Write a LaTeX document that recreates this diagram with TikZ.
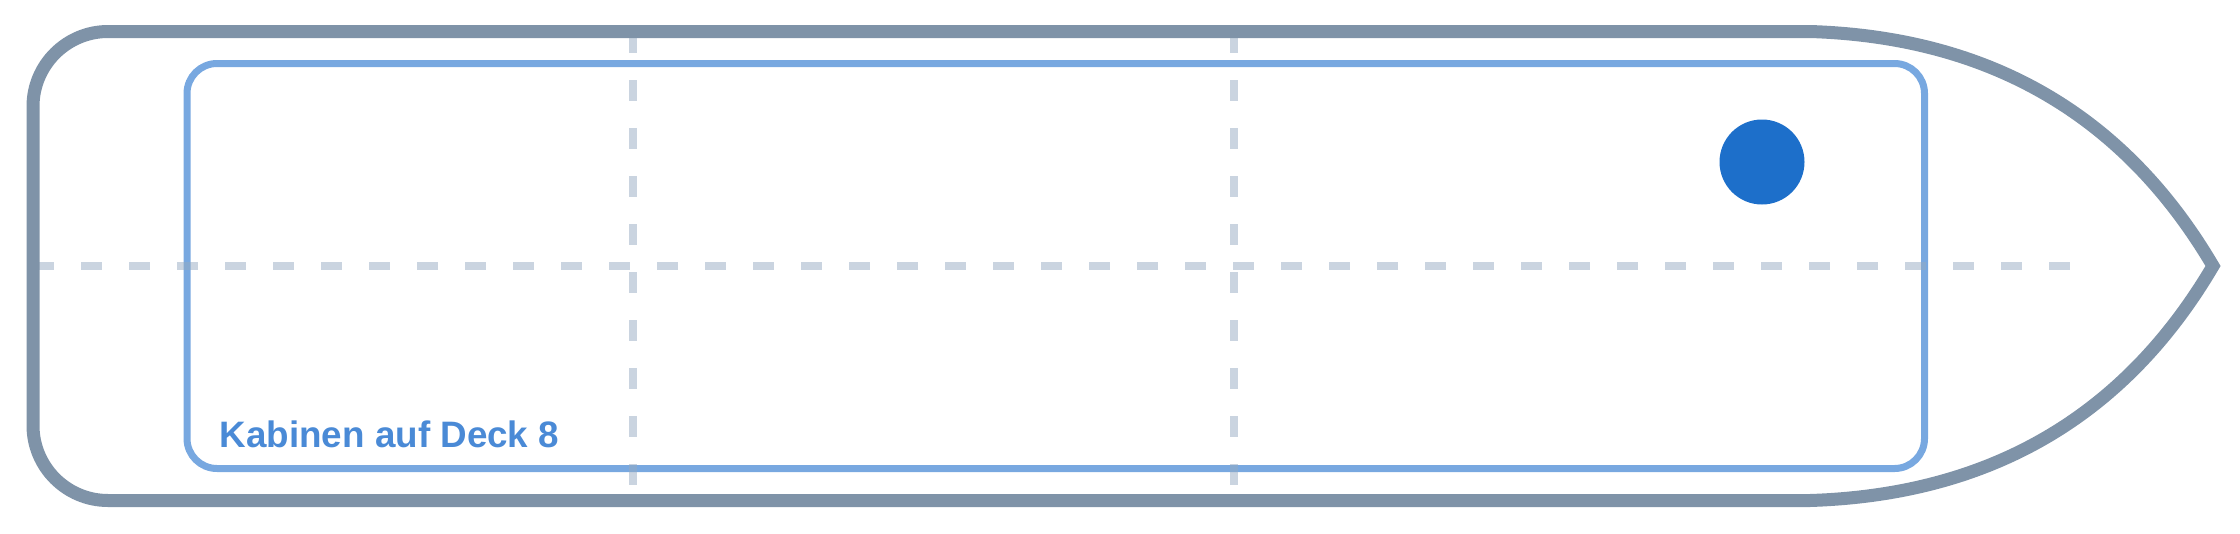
\documentclass[tikz,border=0pt]{standalone}
\usepackage{fontspec}
\setmainfont{Liberation Sans}
\definecolor{hullgray}{HTML}{7F93A8}
\definecolor{deckblue}{HTML}{78A8E0}
\definecolor{gridgray}{HTML}{95AAC1}
\definecolor{markerblue}{HTML}{1D6FCA}
\definecolor{labelblue}{HTML}{4A8AD6}
\tikzset{
  gridline/.style={gridgray, opacity=0.5, line width=8pt, dash pattern=on 21pt off 27pt},
  hull/.style={hullgray, line width=13pt},
}

\begin{document}
\begin{tikzpicture}[x=1pt, y=-1pt]
      \useasboundingbox (0,0) rectangle (2240,533);

      % deck area
      \draw[deckblue, line width=7pt, rounded corners=30pt] (187,63.5) rectangle (1924.5,468.5);
      \node[circle, fill=markerblue, inner sep=0pt, minimum size=85pt] (cabin) at (1762,162) {};
      \node[anchor=base west, inner sep=0pt, text=labelblue, font=\bfseries\fontsize{36.8}{44}\selectfont] (decklabel) at (219.5,447) {Kabinen auf Deck 8};

      % grid
      \draw[gridline] (33,266) -- (2070,266);
      \draw[gridline] (633,32) -- (633,500);
      \draw[gridline] (1234,32) -- (1234,500);

      % hull
      \draw[hull] (500,31.5) -- (1810,31.5)
        .. controls (1990,37.2) and (2124.3,115.3) .. (2213,266)
        .. controls (2124.3,416.7) and (1990,494.8) .. (1810,500.5)
        -- (500,500.5) [rounded corners=75pt] -- (33,500.5) -- (33,31.5) -- (500,31.5);
    \end{tikzpicture}
\end{document}
